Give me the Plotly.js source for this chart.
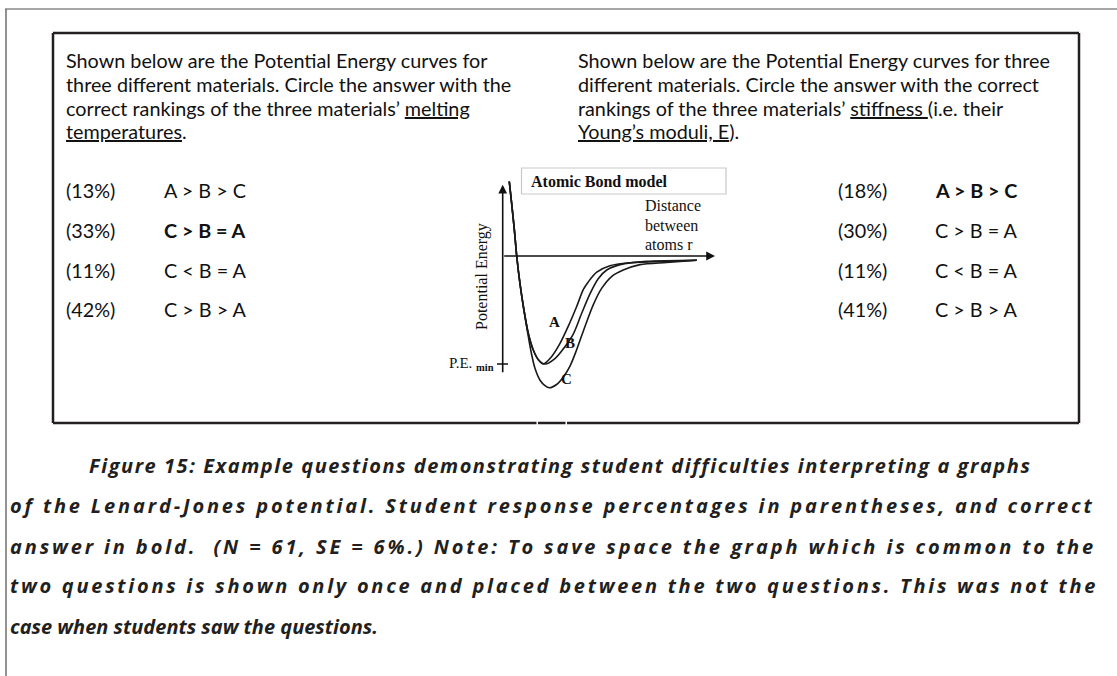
<!DOCTYPE html>
<html><head><meta charset="utf-8">
<script src="https://cdn.plot.ly/plotly-3.0.1.min.js"></script>
<style>html,body{margin:0;padding:0;background:#fff;}#chart{width:1117px;height:676px;}</style>
</head><body><div id="chart"></div>
<script>
// ---- data ----
// Potential energy curves (r in arbitrary units, PE in units of |P.E.min|)
const rA  = [0.31,0.42,0.55,0.66,0.81,1.00,1.21,1.44,1.68,1.91,2.31,2.70,3.09,3.48,3.80,4.03,4.43,5.05,6.15,7.72,9.14];
const peA = [0.69,0.49,0.24,0.00,-0.25,-0.50,-0.72,-0.87,-0.96,-1.00,-0.93,-0.81,-0.65,-0.47,-0.31,-0.24,-0.15,-0.09,-0.06,-0.05,-0.04];
const rB  = [0.31,0.42,0.55,0.66,0.81,1.00,1.21,1.44,1.68,1.99,2.46,2.93,3.33,3.72,4.11,4.50,4.90,5.53,6.78,9.14];
const peB = [0.69,0.49,0.24,0.00,-0.25,-0.50,-0.72,-0.87,-0.96,-1.00,-0.95,-0.84,-0.72,-0.53,-0.35,-0.21,-0.13,-0.08,-0.05,-0.04];
const rC  = [0.31,0.42,0.55,0.66,0.81,1.00,1.16,1.32,1.52,1.76,1.99,2.20,2.54,2.86,3.17,3.48,3.88,4.27,4.66,5.13,5.68,6.47,7.72,9.14];
const peC = [0.69,0.49,0.24,0.00,-0.25,-0.50,-0.69,-0.87,-1.04,-1.15,-1.20,-1.22,-1.19,-1.12,-1.02,-0.87,-0.65,-0.45,-0.30,-0.19,-0.13,-0.08,-0.06,-0.04];
const curveNames = ['A','B','C'];
const curveLabelR  = [2.43, 3.18, 3.01];
const curveLabelPE = [-0.61, -0.81, -1.14];

// answer options and student response percentages
const options = ['A > B > C','C > B = A','C < B = A','C > B > A'];
const meltingPct = [13, 33, 11, 42];
const stiffnessPct = [18, 30, 11, 41];
const meltingCorrect = 1;
const stiffnessCorrect = 0;

const meltingQuestion = [
  'Shown below are the Potential Energy curves for',
  'three different materials. Circle the answer with the',
  'correct rankings of the three materials\u2019 <u>melting</u>',
  '<u>temperatures</u>.'
];
const stiffnessQuestion = [
  'Shown below are the Potential Energy curves for three',
  'different materials. Circle the answer with the correct',
  'rankings of the three materials\u2019 <u>stiffness </u>(i.e. their',
  '<u>Young\u2019s moduli, E</u>).'
];
const axisLabelLines = ['Distance', 'between', 'atoms r'];
const captionLines = [
  'Figure 15: Example questions demonstrating student difficulties interpreting a graphs',
  'of the Lenard-Jones potential. Student response percentages in parentheses, and correct',
  'answer in bold.\u00a0 (N = 61, SE = 6%.) Note: To save space the graph which is common to the',
  'two questions is shown only once and placed between the two questions. This was not the',
  'case when students saw the questions.'
];

// ---- layout helpers ----
const W = 1117, H = 676;
const px = x => x / W;
const py = y => 1 - y / H;
const INK = '#231f20';
const qFont = {family: 'Lato, "Open Sans", sans-serif', size: 19.8, color: '#111'};
const serif = 'Liberation Serif, "DejaVu Serif", serif';

const annotations = [];
const shapes = [];

function textAt(x, y, text, font, extra) {
  annotations.push(Object.assign({xref:'paper', yref:'paper', x:px(x), y:py(y), text:text,
    showarrow:false, xanchor:'left', yanchor:'middle', font:font}, extra||{}));
}
function line(x0,y0,x1,y1,color,width){
  shapes.push({type:'line', xref:'paper', yref:'paper', x0:px(x0), y0:py(y0), x1:px(x1), y1:py(y1),
    line:{color:color, width:width}});
}

// frames
line(5, 9, W, 9, '#8a8a8a', 1.5);
line(6, 9, 6, H, '#6e6e6e', 1.5);
line(53, 33, 1079, 33, INK, 2.5);
line(53, 33, 53, 423, INK, 2.5);
line(1079, 33, 1079, 423, INK, 2.5);
line(53, 423, 536.5, 423, INK, 2.5);
line(538, 423, 565.5, 423, INK, 2.5);
line(567, 423, 1079, 423, INK, 2.5);

// questions
const qY = [60, 84, 107.5, 131];
meltingQuestion.forEach((t,i) => textAt(64, qY[i], t, qFont));
stiffnessQuestion.forEach((t,i) => textAt(576, qY[i], t, qFont));

// options
const oY = [190, 230, 270, 309];
options.forEach((o,i) => {
  textAt(64, oY[i], '(' + meltingPct[i] + '%)', qFont);
  textAt(162, oY[i], i === meltingCorrect ? '<b>' + o + '</b>' : o, qFont);
  textAt(836, oY[i], '(' + stiffnessPct[i] + '%)', qFont);
  textAt(933, oY[i], i === stiffnessCorrect ? '<b>' + o + '</b>' : o, qFont);
});

// caption: lines spread (letter-spacing) to fill their measured extents
const capSize = 20;
const capFont = {family: '"Open Sans", Lato, sans-serif', size: capSize, color: INK};
const capY = [465, 505.5, 546, 585.5, 626];
const capLeft = [87, 8, 8, 8, 8];
const capRight = [1029, 1093, 1094, 1096, null];
const ctx = document.createElement('canvas').getContext('2d');
ctx.font = 'italic bold ' + capSize + 'px "Open Sans"';
captionLines.forEach((t,i) => {
  let ls = 0;
  if (capRight[i] !== null) {
    const natural = ctx.measureText(t).width;
    ls = (capRight[i] - capLeft[i] - natural) / t.length;
  }
  textAt(capLeft[i], capY[i],
    '<span style="letter-spacing:' + ls.toFixed(2) + 'px;font-weight:bold;font-style:italic">' + t + '</span>',
    capFont);
});

// ---- graph subplot ----
const gx0 = 430, gx1 = 740, gy0 = 165, gy1 = 400;   // pixel box of the graph
const rPerPx = 1/21.23, pePerPx = 1/108;
const xr = [(gx0-502.7)*rPerPx, (gx1-502.7)*rPerPx];
const yr = [(256-gy1)*pePerPx, (256-gy0)*pePerPx];
const gFont = {family:serif, size:16, color:'#111'};

// Atomic Bond model box
shapes.push({type:'rect', xref:'paper', yref:'paper', x0:px(521.5), y0:py(194), x1:px(726), y1:py(168),
  line:{color:'#c9c9c9', width:1.2}, fillcolor:'rgba(0,0,0,0)'});
textAt(529, 181.5, '<b>Atomic Bond model</b>', gFont);

// axes with arrows
annotations.push({xref:'x', yref:'y', axref:'x', ayref:'y', x:0, y:0.66, ax:0, ay:-1.09,
  text:'', showarrow:true, arrowhead:2, arrowsize:1.1, arrowwidth:1.6, arrowcolor:'#111'});
annotations.push({xref:'x', yref:'y', axref:'x', ayref:'y', x:10.0, y:0, ax:0, ay:0,
  text:'', showarrow:true, arrowhead:2, arrowsize:1.1, arrowwidth:1.6, arrowcolor:'#111'});
shapes.push({type:'line', xref:'x', yref:'y', x0:-0.27, x1:0.25, y0:-1.0, y1:-1.0, line:{color:'#111', width:1.5}});

const axisLabelPE = [0.463, 0.278, 0.102];
axisLabelLines.forEach((t,i) => annotations.push({xref:'x', yref:'y', x:6.6, y:axisLabelPE[i],
  xanchor:'left', yanchor:'middle', text:t, showarrow:false, font:gFont}));
annotations.push({xref:'x', yref:'y', x:-1.0, y:-0.19, xanchor:'center', yanchor:'middle', textangle:-90,
  text:'Potential Energy', showarrow:false, font:gFont});
annotations.push({xref:'x', yref:'y', x:-0.3, y:-1.0, xanchor:'right', yanchor:'middle',
  text:'P.E. <sub><b>min</b></sub>', showarrow:false, font:{family:serif, size:15, color:'#111'}});

curveNames.forEach((n,i) => annotations.push({xref:'x', yref:'y', x:curveLabelR[i], y:curveLabelPE[i],
  xanchor:'center', yanchor:'middle', text:'<b>'+n+'</b>', showarrow:false,
  font:{family:serif, size:15, color:'#111'}}));

const curveStyle = {color:'#1a1a1a', width:1.6, shape:'spline', smoothing:0.8};
const traces = [
  {x:rA, y:peA, name:'A'},
  {x:rB, y:peB, name:'B'},
  {x:rC, y:peC, name:'C'}
].map(t => Object.assign(t, {type:'scatter', mode:'lines', line:curveStyle, hoverinfo:'skip',
  xaxis:'x', yaxis:'y', cliponaxis:false}));

const layout = {
  width: W, height: H,
  margin: {l:0, r:0, t:0, b:0, pad:0},
  paper_bgcolor:'#fff', plot_bgcolor:'rgba(0,0,0,0)',
  showlegend:false,
  xaxis: {domain:[px(gx0), px(gx1)], range:xr, visible:false, fixedrange:true},
  yaxis: {domain:[py(gy1), py(gy0)], range:yr, visible:false, fixedrange:true},
  annotations: annotations,
  shapes: shapes
};
Plotly.newPlot('chart', traces, layout, {displayModeBar:false, staticPlot:true});
</script>
</body></html>
